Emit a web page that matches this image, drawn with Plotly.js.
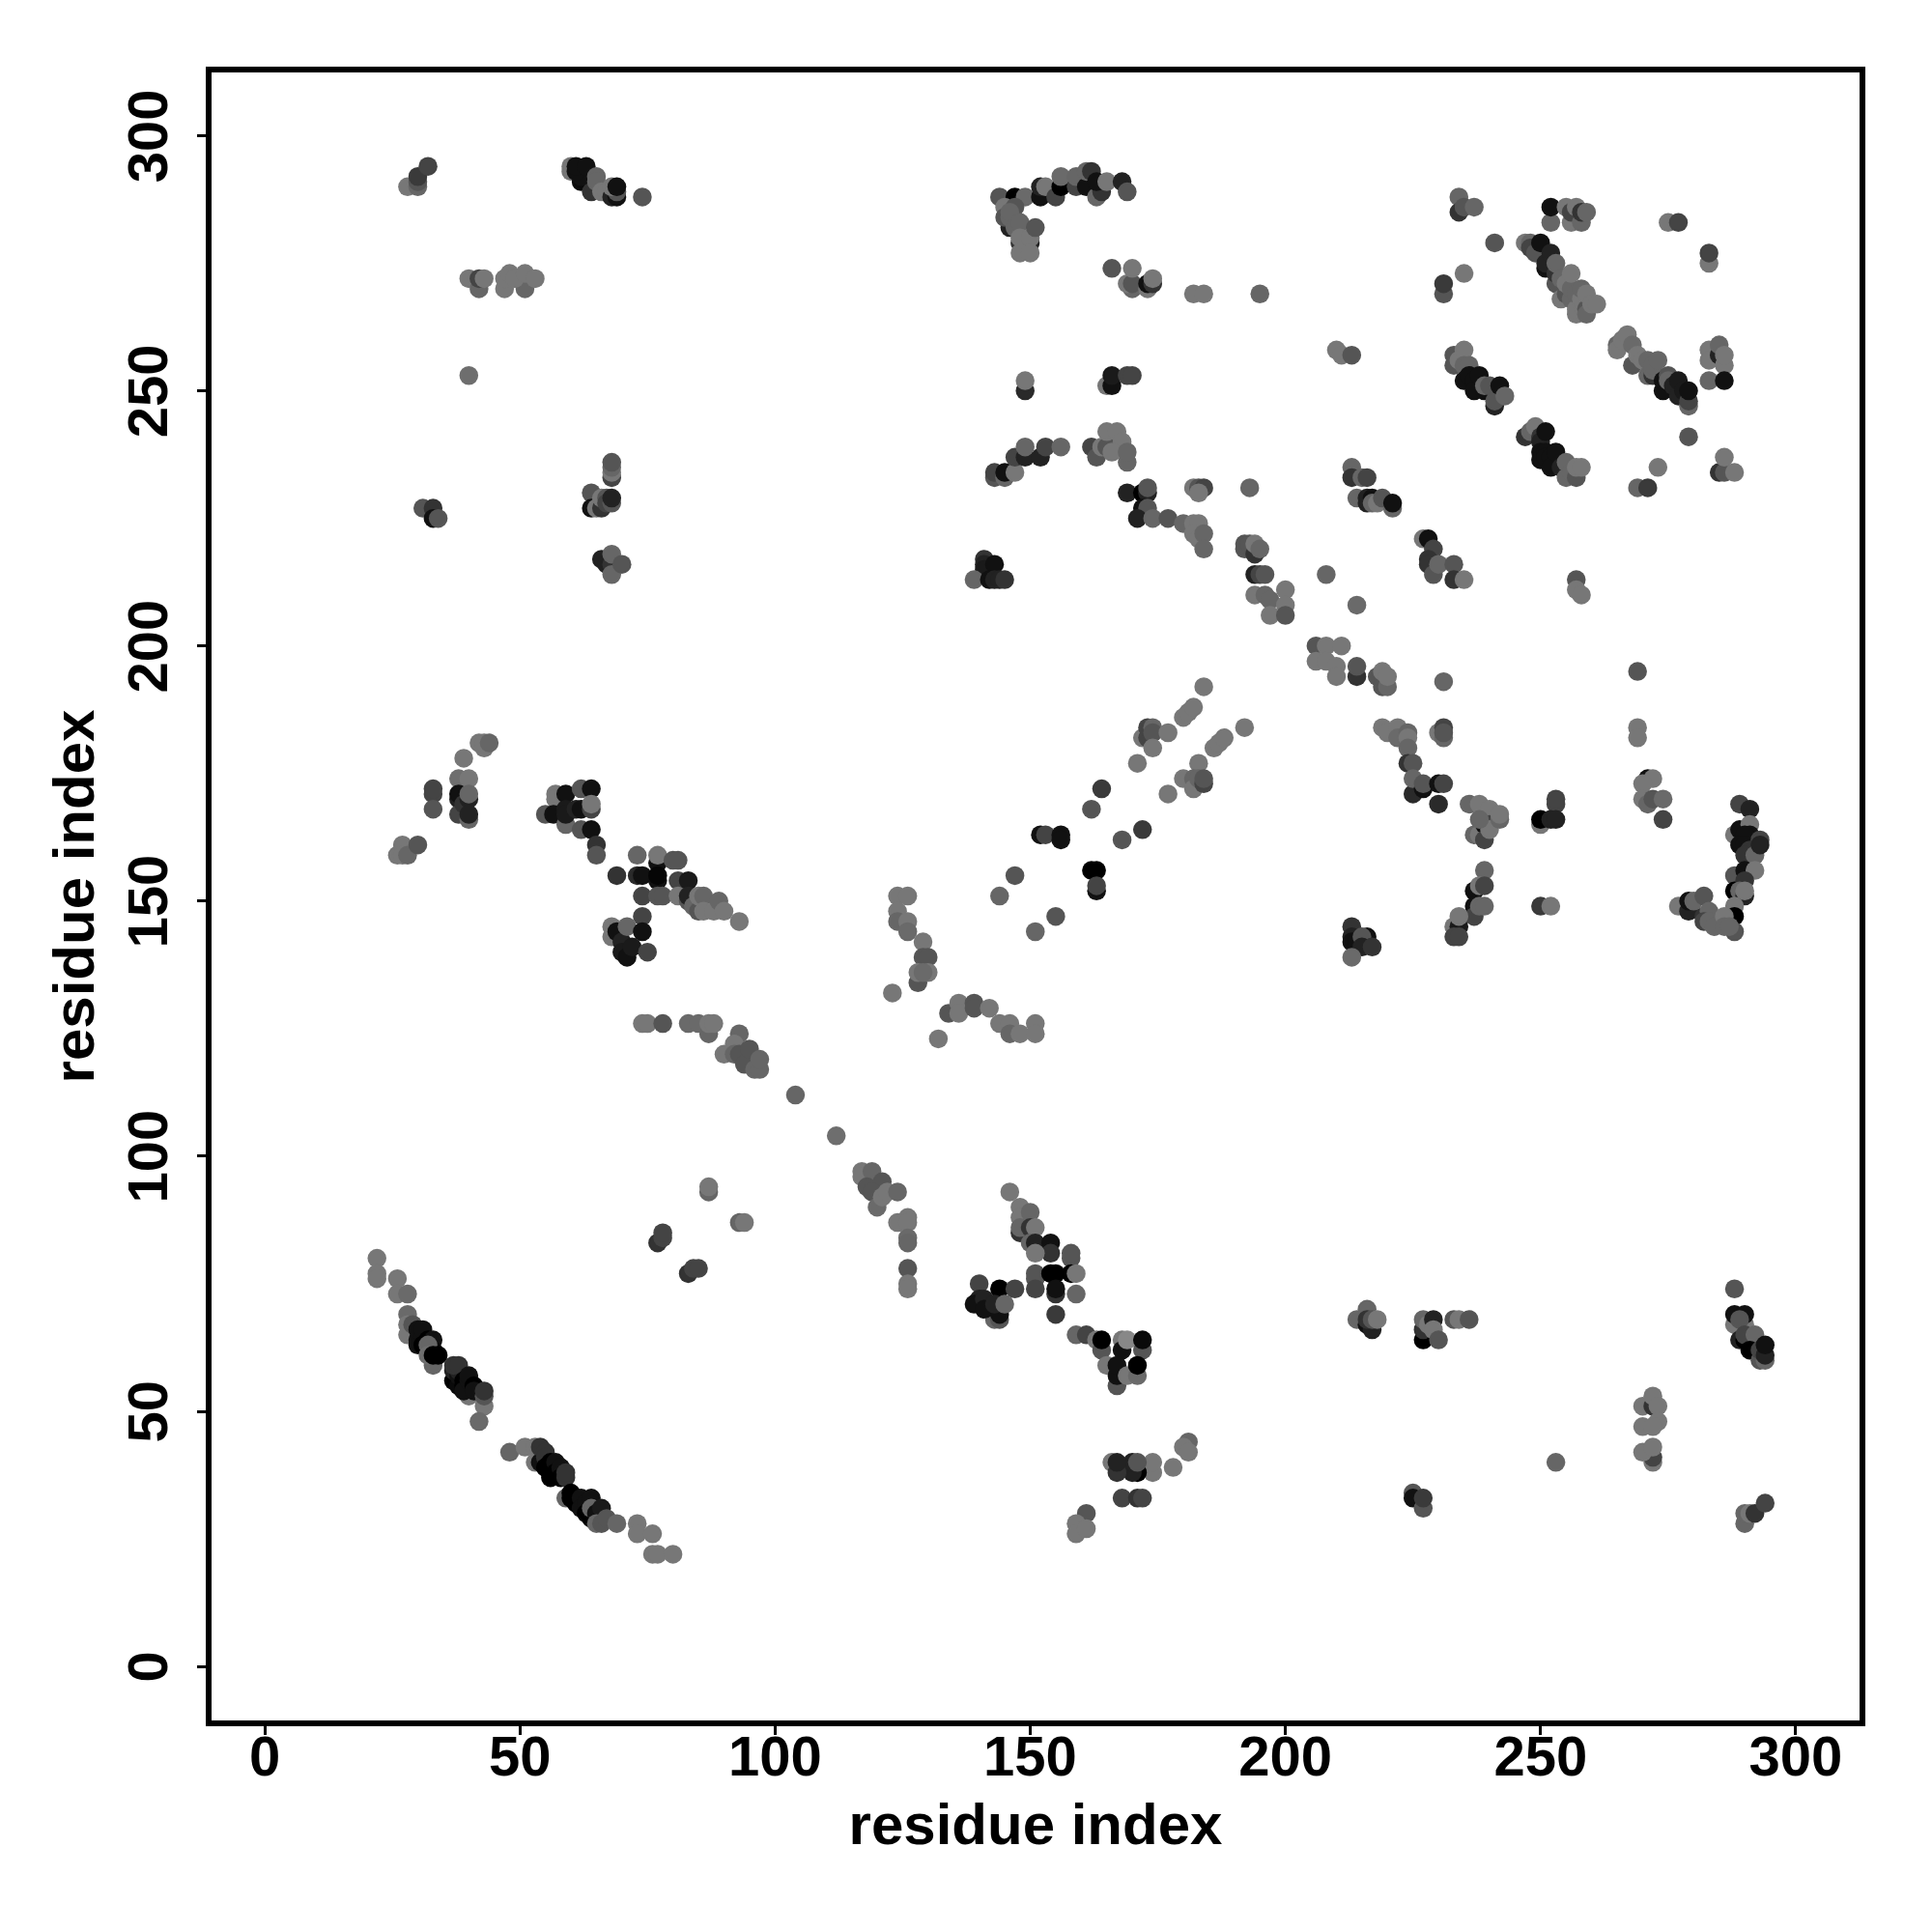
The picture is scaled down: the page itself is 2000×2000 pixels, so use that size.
<!DOCTYPE html>
<html><head><meta charset="utf-8">
<script src="https://cdn.plot.ly/plotly-3.0.1.min.js"></script>
<style>html,body{margin:0;padding:0;background:#fff}#chart{width:2000px;height:2000px}</style>
</head><body><div id="chart"></div>
<script>
// Each entry: [residue i, residue j, grey level 0-255]
const tickValues = [0,50,100,150,200,250,300];
const axisLabel = "residue index";

const topLeft = [[28,290,119],[30,290,102],[30,291,85],[30,292,58],[32,294,68]];
const topBand = [[60,294,119],[60,293,119],[62,291,10],[62,292,17],[61,293,17],[61,294,17],[63,294,17],[64,289,51],[65,292,102],[65,291,102],[66,289,119],[67,289,119],[68,288,34],[69,288,17],[69,289,85],[68,290,119],[69,290,17],[74,288,85]];
const row272 = [[40,272,119],[42,270,102],[42,272,68],[43,272,119],[47,270,119],[47,272,119],[48,273,119],[51,270,102],[49,272,119],[51,273,119],[53,272,119],[40,253,110]];
const lowTopLeft = [[31,227,85],[33,227,51],[33,225,17],[34,225,85]];
const col68 = [[68,233,68],[68,234,119],[68,235,102],[68,236,85],[64,230,85],[64,227,17],[65,227,119],[66,227,51],[66,229,119],[67,229,85],[67,228,68],[68,228,85],[68,229,34]];
const col68low = [[66,217,34],[67,216,34],[68,216,51],[68,218,102],[68,214,102],[70,216,85]];
const left170 = [[42,181,119],[43,180,119],[43,181,119],[44,181,102],[39,178,119],[38,174,110],[40,174,119],[33,171,68],[33,172,68],[33,168,85],[38,170,34],[38,171,17],[38,167,68],[40,166,102],[39,169,51],[40,170,34],[40,171,102],[40,167,34],[26,159,119],[27,161,119],[27,159,119],[28,159,102],[30,161,85]];
const cluster60 = [[55,167,85],[57,171,119],[57,170,119],[56.6,167,17],[59,165,102],[59,171,17],[59,168,26],[59,167,26],[61,168,34],[62,172,85],[62,168,17],[62,164,85],[64,172,17],[64,168,68],[64,169,119],[64,164,17],[65,161,51],[65,159,85]];
const cluster75 = [[69,155,51],[73,159,102],[73,155,42],[74,155,17],[77,157.5,17],[77,159,119],[77,154,17],[77,155,5],[74,151,68],[77,151,85],[78,151,85],[80,158,85],[81,158,85],[81,154,68],[81,151,119],[83,150,85],[83,154,26],[83,151,34],[84,149,102],[85,148,85],[85,151,119],[86,151,102],[86,148,119],[88,148,119],[89,150,102],[90,148,119],[93,146,119]];
const cluster70 = [[74,147,68],[68,145,119],[68,143,119],[69,144,17],[70,142,34],[70,140,26],[71,139,17],[72,141,26],[71,145,102],[74,144,17],[75,140,68]];
const row126 = [[74,126,119],[75,126,119],[78,126,85],[83,126,106],[85,126,106],[87,124,102],[87,126,119],[88,126,119],[93,124,102],[90,120,119],[92,122,119],[92,120,102],[93,120,85],[94,118,85],[95,121,85],[96,117,102],[97,117,102],[97,119,102],[104,112,102],[112,104,110]];
const small90 = [[87,93,102],[87,94,119],[93,87,102],[94,87,119],[77,83,51],[78,84,68],[78,85,68],[83,77,51],[84,78,68],[85,78,68]];
const helixOne = [[22,80,119],[22,77,119],[22,76,119],[26,76,119],[26,73,119],[28,73,106],[28,69,106],[28,67,119],[28,65,119],[29,67,85],[33,59,102],[30,63,17],[30,64,17],[30,66,17],[31,65,17],[31,66,17],[31,63,0],[32,64,0],[32,62,0],[33,64,17],[33,62,10],[32,63,102],[32,61,110],[33,61,0],[34,61,0],[40,53,119],[37,56,0],[38,55,10],[37,58,34],[38,57,17],[38,58,34],[37,59,51],[38,59,51],[39,56,0],[39,55,0],[39,54,17],[40,56,17],[40,57,17],[41,55,0],[41,54,17],[43,51,119],[43,53,85],[43,54,51],[42,48,106]];
const helixTwo = [[48,42,102],[51,43,119],[53,43,119],[53,40,119],[54,40,17],[54,43,51],[55,42,51],[55,41,51],[55,39,0],[56,40,0],[57,40,17],[57,38,0],[56,37,0],[58,39,17],[58,37,0],[59,37,51],[59,38,51],[59,33,102],[60,34,0],[60,33,0],[61,33,0],[61,32,0],[62,33,17],[62,31,17],[63,32,17],[64,33,17],[63,30,0],[64,29,0],[64,31,102],[65,30,17],[66,31,26],[65,28,102],[66,28,85],[67,29,85],[69,28,102],[73,28,119],[73,26,119],[76,26,119],[76,22,119],[77,22,119],[80,22,119]];
const arc288 = [[144,288,85],[147,288,0],[149,288,106],[152,288,17],[152,290,34],[153,290,119],[155,288,68],[156,290,0],[156,292,106],[159,290,68],[159,292,102],[161,290,17],[161,293,102],[162,293,51],[163,288,102],[164,289,51],[163,291,17],[165,291,119],[168,291,34],[169,289,85]];
const arc280 = [[146,282,34],[145,286,119],[145,284,85],[147,286,85],[146,284,102],[146,285,102],[147,282,102],[148,283,102],[148,279,51],[150,279,34],[148,280,119],[150,280,119],[151,282,85],[148,277,119],[150,277,119]];
const row270 = [[166,274,85],[170,270,102],[169,271,119],[170,271,85],[170,274,119],[173,270,119],[173,271,17],[174,271,51],[174,272,119],[182,269,119],[184,269,119],[195,269,102],[149,250,42],[149,252,119],[165,251,119],[166,251,17],[166,253,26],[169,253,68],[170,253,68]];
const arc238 = [[143,233,85],[143,234,68],[145,233,102],[145,234,17],[147,234,119],[147,237,68],[149,237,34],[149,239,102],[152,237,34],[153,239,68],[156,239,102],[162,239,68],[163,237,85],[164,239,119],[166,239,34],[165,239,85],[165,242,119],[167,242,119],[168,240,119],[166,238,119],[169,236,102],[169,238,102]];
const band225 = [[169,230,34],[172,230,0],[173,230,34],[173,231,85],[172,227,17],[173,227,85],[171,225,34],[174,225,102],[177,225,85],[180,224,102],[182,224,119],[183,224,119],[182,222,119],[183,221,119],[184,222,102],[184,219,102],[182,231,119],[183,231,85],[184,231,68],[183,230,119],[193,231,102]];
const dark215 = [[141,217,51],[141,216,34],[141,215,26],[143,216,17],[139,213,102],[142,213,17],[143,213,34],[144,213,34],[145,213,51]];
const band210 = [[192,219,85],[192,220,85],[193,220,85],[194,218,51],[194,220,119],[195,219,102],[194,214,34],[195,214,68],[196,214,85],[194,210,119],[196,210,102],[197,209,102],[197,206,119],[200,211,119],[200,208,119],[200,206,85],[208,214,102],[214,208,106]];
const topRightA = [[234,288,102],[234,285,51],[235,286,85],[237,286,102],[241,279,85],[235,273,119],[231,269,85],[231,271,58],[252,283,102],[252,286,17],[255,286,119],[256,283,119],[256,285,68],[257,286,119],[258,283,102],[258,285,51],[259,285,102],[275,283,119],[277,283,68],[283,275,119],[283,277,68]];
const diagonalA = [[247,279,119],[248,279,102],[248,278,68],[249,277,85],[250,279,17],[251,274,17],[251,275,34],[252,277,34],[253,271,85],[253,273,51],[253,275,102],[254,272,102],[254,268,119],[255,269,85],[255,271,119],[256,268,102],[256,270,102],[256,273,119],[257,265,119],[257,266,119],[257,269,102],[258,267,119],[258,268,119],[258,270,102],[259,266,85],[259,265,102],[259,269,119],[260,267,119],[261,267,119]];
const diagonalB = [[265,259,102],[265,258,119],[266,260,119],[267,261,119],[268,255,85],[268,259,106],[269,257,119],[270,256,119],[271,256,102],[271,253,102],[272,253,51],[272,254,102],[272,255,102],[273,256,102],[274,250,17],[274,252,17],[275,253,85],[275,252,102],[276,251,34],[277,249,34],[277,252,26],[278,250,26],[279,247,102],[279,248,68],[279,250,17],[279,241,85]];
const farRight = [[283,258,119],[283,256,119],[285,257,34],[285,259,102],[286,255,119],[286,257,119],[283,252,102],[286,252,17],[210,258,119],[211,257,119],[213,257,85]];
const bandC = [[233,257,85],[233,255,85],[234,256,119],[235,258,119],[235,255,102],[236,255,102],[235,252,17],[236,253,17],[237,252,17],[237,250,17],[238,253,17],[239,250,17],[240,250,17],[241,249,17],[239,251,102],[240,251,85],[241,247,34],[241,248,85],[242,251,17],[243,249,102]];
const bandD = [[247,241,51],[248,242,102],[249,243,119],[250,241,51],[250,240,34],[250,238,17],[250,236.5,17],[251,242,17],[251,238,17],[251,237,17],[252,237,17],[252,235,17],[253,238,17],[254,235,34],[255,233,102],[255,236,102],[256,234,102],[257,233,85],[257,235,119],[258,235,119]];
const lowRightTop = [[269,231,102],[271,231,58],[273,235,119],[285,234,51],[286,234,85],[286,237,119],[288,234,119],[213,235,102],[213,233,51],[215,233,102],[216,233,68],[214,229,102],[216,228,34],[216,229,34],[217,229,17],[217,228,102],[218,228,119],[219,229,85],[221,227,102],[221,228,17]];
const bandE = [[227,221,119],[228,221,17],[229,219,68],[228,217,51],[228,216,51],[229,214,85],[230,216,102],[233,216,85],[233,213,51],[235,213,119],[257,213,85],[257,211,119],[258,210,119]];
const diagonal200 = [[206,200,85],[208,200,119],[211,200,119],[206,197,119],[208,197,119],[210,196,119],[210,194,119],[214,194,51],[214,196,85],[218,194,85],[219,192,85],[219,195,119],[220,192,102],[220,194,119],[231,193,102],[269,195,85]];
const midRight = [[219,184,119],[220,183,119],[222,184,119],[222,182,106],[224,183,102],[224,182,119],[224,180,102],[224,177,51],[225,177,85],[225,171,42],[225,174,102],[227,172,17],[227,173,85],[230,169,42],[230,173,17],[231,173,68],[230,183,119],[231,184,68],[231,182,102],[231,183,85],[269,184,119],[269,182,119]];
const col272 = [[271,174,17],[272,174,119],[270,173,119],[270,170,119],[271,169,102],[272,170,85],[274,170,106],[274,166,68]];
const col240 = [[236,169,102],[238,169,119],[240,168,119],[237,163,102],[238,163,119],[239,165,17],[239,162,68],[240,165,68],[240,164,119],[238,166,102],[242,166,102],[242,167,119],[253,169,68],[253,170,68],[250,165,119],[250,166,0],[252,166,34],[253,166,34]];
const curve290 = [[289,169,68],[291,168,34],[288,163,119],[289,164,17],[291,165,119],[291,163,17],[290,163,17],[289,161,17],[290,161,17],[291,160,51],[290,159,51],[292,159,102],[293,162,68],[293,161,34],[288,155,85],[290,156,17],[292,156,119],[290,154,51],[288,152,0],[289,152,102],[290,151,34],[290,152,119],[288,149,119],[288,147,0],[288,144,85]];
const foot148 = [[277,149,119],[279,148,34],[279,150,17],[280,150,102],[282,151,85],[282,147,51],[283,148,102],[282,146,68],[283,146,102],[284,145,102],[286,147,119],[286,145,102],[287,145,102],[250,149,58],[252,149,119]];
const col238 = [[239,156,102],[237,152,17],[238,153,119],[239,153,68],[237,149,17],[237,147,68],[238,149,102],[239,149,102],[233,145,119],[234,145,26],[234,147,119],[233,143,68],[234,143,68],[213,145,51],[213,143,34],[213,142,17],[214,142,17],[216,143,17],[215,143,85],[215,141,34],[217,141,51],[213,139,106]];
const strandPair = [[184,192,119],[180,186,119],[181,187,119],[182,188,119],[172,182,119],[173,182,68],[173,184,68],[174,184,102],[174,183,85],[174,180,119],[177,183,119],[171,177,119],[192,184,119],[186,180,119],[187,181,119],[188,182,119],[183,177,119],[180,174,119],[182,174,102],[182,172,119],[183,174,102],[184,173,68],[184,174,85],[177,171,119],[164,172,58],[162,168,85],[172,164,58],[168,162,85],[152,163,17],[153,163,68],[156,163,17],[156,162,17],[162,156,0],[163,156,0],[163,152,17],[163,153,68],[147,155,85],[144,151,102],[155,147,85],[151,144,102]];
const centre130 = [[124,151,119],[126,151,119],[124,148,119],[124,146,102],[126,146,119],[126,144,106],[129,142,119],[129,139,85],[130,139,85],[128,134,85],[128,136,119],[130,136,119],[129,136,106],[123,132,119],[134,128,85],[136,130,119],[136,128,119],[139,130,85],[139,129,85],[142,129,119],[144,126,119],[146,126,119],[146,124,102],[148,124,119],[151,126,119],[151,124,119],[132,123,119]];
const cluster95 = [[117,97,119],[117,96,119],[119,97,102],[118,94,85],[121,95,85],[119,93,85],[120,90,106],[121,92,119],[122,93,119],[124,93,102],[124,87,119],[126,88,119],[126,87,119],[126,84,106],[126,83,102],[126,78,85],[126,75,119],[126,74,119]];
const cluster80 = [[146,93,119],[148,90,119],[148,88,119],[148,85,51],[148,86,102],[150,89,102],[150,86,51],[151,86,119],[150,83,102],[151,83,34],[154,83,17],[154,81,51],[151,81,119],[158,80,85],[158,81,85],[151,76,85],[151,77,85],[154,77,0],[155,77,0],[158,77,0],[159,77,119],[151,74,68],[155,73,51],[155,74,17],[159,73,102],[155,69,58]];
const cluster70b = [[140,75,68],[144,74,0],[147,74,68],[143,68,102],[144,68,85],[140,72,34],[139,71,17],[141,72,34],[141,70,17],[144,69,17],[143,71,34],[145,71,102]];
const cluster60b = [[159,65,102],[161,65,68],[163,64,119],[164,62,85],[164,64,0],[165,59,119],[168,64,119],[168,62,17],[169,64,136],[167,55,85],[167,57,17],[167,59,17],[169,57,119],[171,57,106],[172,62,85],[171,59,0],[172,64,10]];
const cluster40 = [[181,44,102],[180,43,119],[181,42,119],[178,39,119],[174,38,119],[174,40,119],[171,38,0],[170,38,34],[170,40,34],[171,40,85],[166,40,119],[167,38,51],[167,40,34],[168,33,68],[171,33,51],[172,33,68],[161,30,85],[159,28,119],[159,26,119],[161,27,119]];
const right68 = [[214,68,102],[216,67,17],[217,66,34],[216,70,102],[216,68,51],[217,68,85],[218,68,119],[227,64,0],[227,66,51],[227,68,102],[228,67,119],[229,68,34],[229,66,119],[230,64,85],[233,68,85],[234,68,119],[236,68,85],[253,40,102],[225,34,85],[225,33,17],[227,31,85],[227,33,58]];
const col272low = [[270,51,119],[272,51,51],[272,53,119],[273,51,119],[273,48,119],[270,47,119],[272,47,119],[272,40,119],[272,41,68],[270,42,119],[272,43,119]];
const right62 = [[288,74,85],[288,67,119],[290,67,119],[288,69,17],[290,69,17],[289,68,85],[289,64,34],[290,64,0],[290,65,68],[292,65,102],[291,62,0],[293,60,85],[294,60,102],[293,62,68],[294,61,34],[294,63,17],[290,28,102],[290,30,102],[291,30,119],[292,30,51],[294,32,68]];

const contacts = [].concat(topLeft,topBand,row272,lowTopLeft,col68,col68low,left170,cluster60,cluster75,cluster70,row126,small90,helixOne,helixTwo,arc288,arc280,row270,arc238,band225,dark215,band210,topRightA,diagonalA,diagonalB,farRight,bandC,bandD,lowRightTop,bandE,diagonal200,midRight,col272,col240,curve290,foot148,col238,strandPair,centre130,cluster95,cluster80,cluster70b,cluster60b,cluster40,right68,col272low,right62);

const fontFamily = '"Liberation Sans", Arial, sans-serif';
const axisCommon = {
  tickmode:'array', tickvals:tickValues, ticktext:tickValues.map(String),
  showgrid:false, zeroline:false, showline:true, mirror:true, linewidth:6, linecolor:'#000',
  ticks:'outside', ticklen:9, tickwidth:3, tickcolor:'#000',
  tickfont:{family:fontFamily,size:58,color:'#000',weight:700}
};
Plotly.newPlot('chart',[{
  type:'scatter', mode:'markers',
  x:contacts.map(c=>c[0]), y:contacts.map(c=>c[1]),
  marker:{size:19.5,line:{width:0},color:contacts.map(c=>`rgb(${c[2]},${c[2]},${c[2]})`)},
  cliponaxis:true, hoverinfo:'x+y'
}],{
  width:2000,height:2000,showlegend:false,
  paper_bgcolor:'#fff',plot_bgcolor:'#fff',
  margin:{l:219,r:74.5,t:74.5,b:218.5,pad:0,autoexpand:false},
  xaxis:Object.assign({},axisCommon,{range:[-10.41,312.5],ticklabelstandoff:-28,
    title:{text:axisLabel,font:{family:fontFamily,size:60,color:'#000',weight:700},standoff:20}}),
  yaxis:Object.assign({},axisCommon,{range:[-10.58,312.4],tickangle:-90,ticklabelstandoff:8,ticklabelshift:9,
    title:{text:axisLabel,font:{family:fontFamily,size:60,color:'#000',weight:700},standoff:5}})
},{displayModeBar:false,staticPlot:true});
</script></body></html>
